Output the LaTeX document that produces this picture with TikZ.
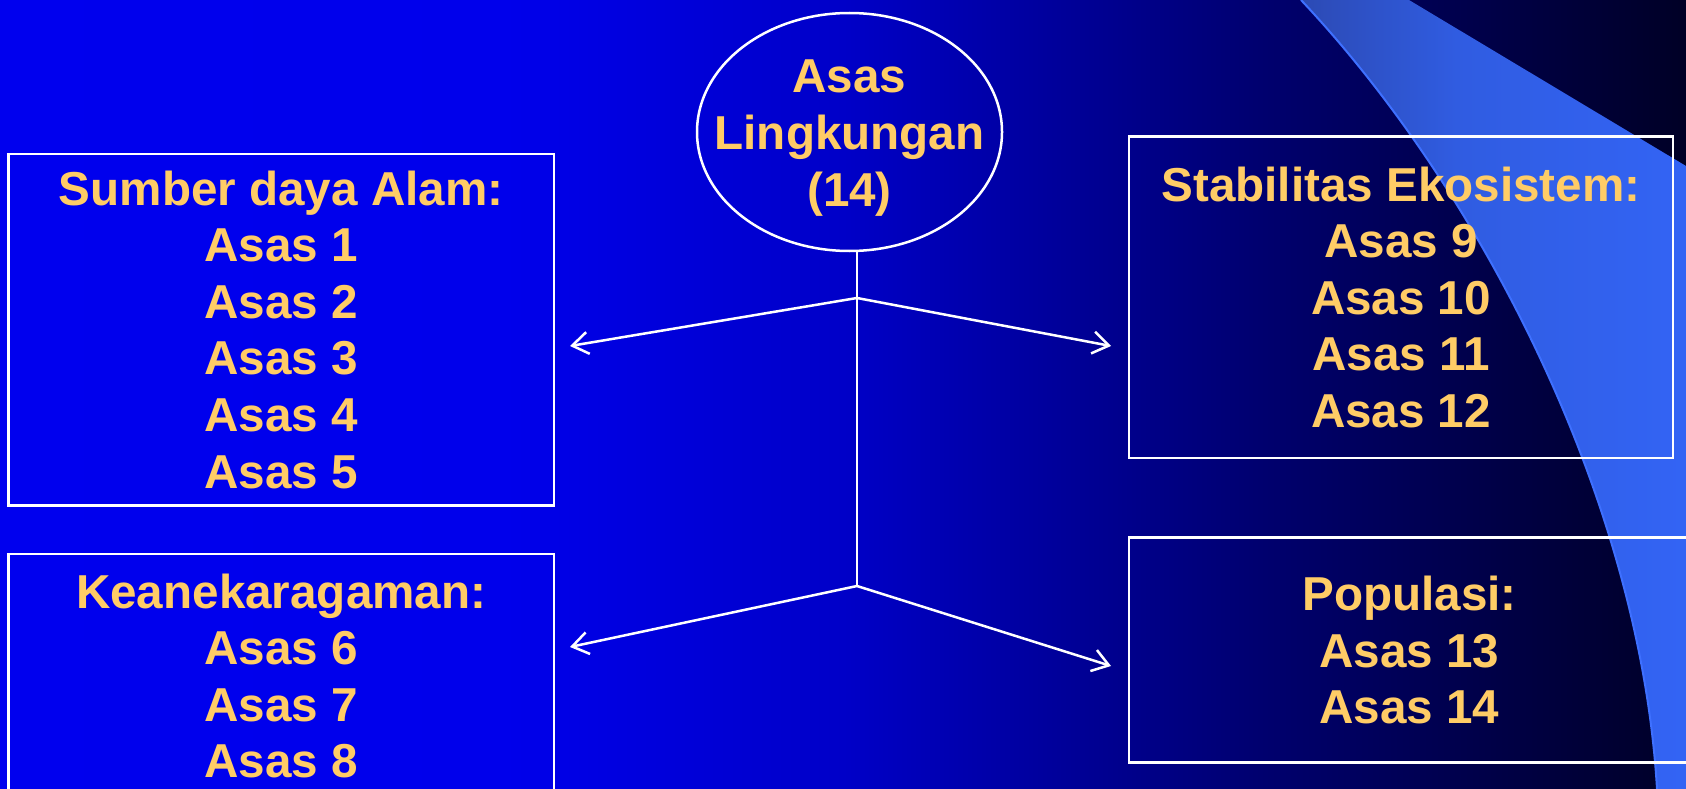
\documentclass[tikz,border=0pt]{standalone}
\usepackage{fontspec}
\setmainfont{Liberation Sans}
\usetikzlibrary{shapes.geometric,arrows.meta}
\definecolor{txt}{RGB}{255,204,102}
\definecolor{bgA}{RGB}{0,0,238}
\definecolor{bgB}{RGB}{0,0,235}
\definecolor{bgC}{RGB}{0,0,200}
\definecolor{bgD}{RGB}{0,0,110}
\definecolor{bgE}{RGB}{0,0,38}
\definecolor{swA}{RGB}{44,74,180}
\definecolor{swB}{RGB}{48,92,225}
\definecolor{swC}{RGB}{51,100,245}
\definecolor{swEdge}{RGB}{62,112,255}
\pgfdeclarehorizontalshading{bgshade}{100bp}{color(0bp)=(bgA); color(25bp)=(bgA); color(40bp)=(bgB); color(50bp)=(bgC); color(62.5bp)=(bgD); color(75bp)=(bgE); color(100bp)=(bgE)}
\pgfdeclarehorizontalshading{swshade}{100bp}{color(0bp)=(swA); color(25bp)=(swA); color(45bp)=(swB); color(75bp)=(swC); color(100bp)=(swC)}
\begin{document}
\begin{tikzpicture}[x=1pt,y=-1pt,
  lbl/.style={text=txt, font=\bfseries\fontsize{47.6}{56.6}\selectfont, align=center},
  panel/.style={draw=white, line width=2.5pt, lbl, inner sep=0pt},
  link/.style={draw=white, line width=2.5pt},
  arrowline/.style={-{Straight Barb[length=16pt,width=22pt,line width=2.5pt]}}]
\useasboundingbox (0,0) rectangle (1686,789);
\clip (0,0) rectangle (1686,789);
% background
\shade[shading=bgshade] (0,0) rectangle (1686,789);
% decorative sliver
\shade[shading=swshade] (1301,0) .. controls (1480,190) and (1640,500) .. (1657,789)
  -- (1690,789) -- (1690,166) -- (1686,166) -- (1409,0) -- cycle;
\draw[swEdge, line width=2pt] (1301,0) .. controls (1480,190) and (1640,500) .. (1657,789);
% central ellipse
\node[ellipse, draw=white, line width=2.5pt, inner sep=0pt,
  minimum width=305pt, minimum height=238pt] (e) at (849.5,132) {};
\node[lbl, inner sep=0pt] (et) at ([yshift=-6pt]e.center) {Asas\\Lingkungan\\(14)};
% boxes
\node[panel, minimum width=545.2pt, minimum height=351.6pt] (sda) at (281.2,329.6)
  {Sumber daya Alam:\\Asas 1\\Asas 2\\Asas 3\\Asas 4\\Asas 5};
\node[panel, minimum width=545.2pt, minimum height=244.4pt] (kea) at (281.2,676)
  {Keanekaragaman:\\Asas 6\\Asas 7\\Asas 8};
\node[panel, minimum width=544pt, minimum height=321.4pt] (stab) at (1401,297.3)
  {Stabilitas Ekosistem:\\Asas 9\\Asas 10\\Asas 11\\Asas 12};
\node[panel, minimum width=561pt, minimum height=224.8pt] (pop) at (1409.5,650)
  {Populasi:\\Asas 13\\Asas 14};
% junctions and arrow ends
\coordinate (jt) at (857,298);
\coordinate (jb) at (857,586);
\coordinate (aL1) at (570,346);
\coordinate (aR1) at (1111,346);
\coordinate (aL2) at (570,647);
\coordinate (aR2) at (1111,666);
\draw[link] (e.south -| jt) -- (jb);
\draw[link, arrowline] (jt) -- (aL1);
\draw[link, arrowline] (jt) -- (aR1);
\draw[link, arrowline] (jb) -- (aL2);
\draw[link, arrowline] (jb) -- (aR2);
\end{tikzpicture}
\end{document}
